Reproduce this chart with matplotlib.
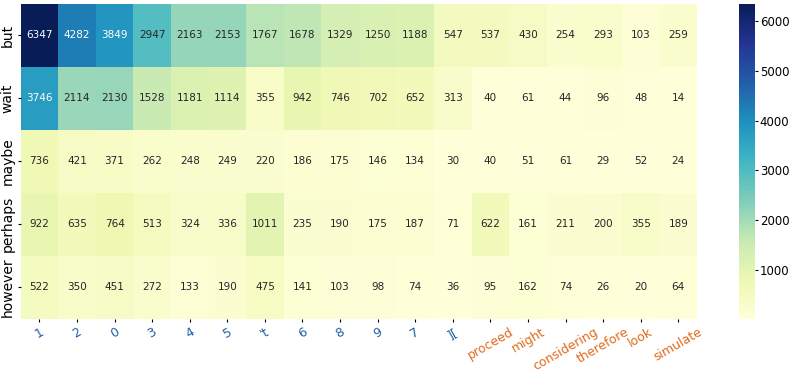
import numpy as np
import matplotlib
matplotlib.use("Agg")
import matplotlib.pyplot as plt
import seaborn as sns

rows = ["but", "wait", "maybe", "perhaps", "however"]
cols = ["1", "2", "0", "3", "4", "5", "'t", "6", "8", "9", "7", "][",
        "proceed", "might", "considering", "therefore", "look", "simulate"]

but = [6347, 4282, 3849, 2947, 2163, 2153, 1767, 1678, 1329, 1250, 1188, 547, 537, 430, 254, 293, 103, 259]
wait = [3746, 2114, 2130, 1528, 1181, 1114, 355, 942, 746, 702, 652, 313, 40, 61, 44, 96, 48, 14]
maybe = [736, 421, 371, 262, 248, 249, 220, 186, 175, 146, 134, 30, 40, 51, 61, 29, 52, 24]
perhaps = [922, 635, 764, 513, 324, 336, 1011, 235, 190, 175, 187, 71, 622, 161, 211, 200, 355, 189]
however = [522, 350, 451, 272, 133, 190, 475, 141, 103, 98, 74, 36, 95, 162, 74, 26, 20, 64]

data = np.array([but, wait, maybe, perhaps, however])
n_blue = 12  # first twelve columns are drawn in blue, the rest orange

fig = plt.figure(figsize=(7.93, 3.73), dpi=100)
ax = fig.add_axes([0.026, 0.145, 0.853, 0.845])
cax = fig.add_axes([0.932, 0.145, 0.020, 0.845])

sns.heatmap(data, ax=ax, cbar_ax=cax, cmap="YlGnBu", annot=True, fmt="d",
            annot_kws={"fontsize": 7.5}, xticklabels=cols, yticklabels=rows)

ax.set_xticklabels(cols, rotation=30, ha="center", fontsize=9)
ax.set_yticklabels(rows, rotation=90, va="center", fontsize=10)
ax.tick_params(length=2.5, pad=2)
for i, lab in enumerate(ax.get_xticklabels()):
    lab.set_color("#1f5fa8" if i < n_blue else "#e06a1b")

cax.tick_params(labelsize=8.5, length=2, pad=1.5)

fig.savefig("out.png", dpi=100)
